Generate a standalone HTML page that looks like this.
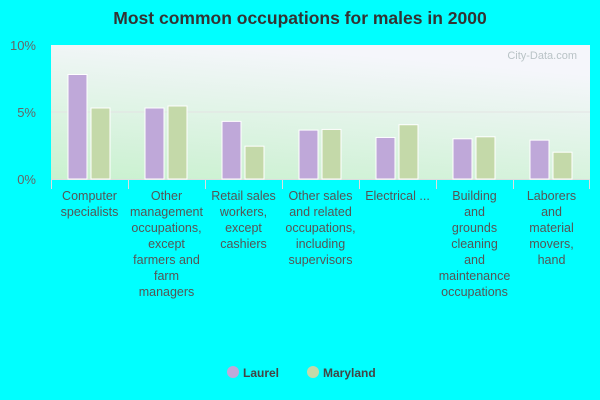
<!DOCTYPE html>
<html><head><meta charset="utf-8"><style>
body{margin:0;background:#00ffff;font-family:"Liberation Sans",sans-serif;}
#wrap{position:relative;width:600px;height:400px;overflow:hidden;}
</style></head><body>
<div id="wrap">
<svg id="svg" width="600" height="400" xmlns="http://www.w3.org/2000/svg">
<defs>
<linearGradient id="bg" x1="0" y1="1" x2="0.35" y2="0">
<stop offset="0" stop-color="#c9f1cf"/><stop offset="1" stop-color="#f5f6fb"/>
</linearGradient>
</defs>
<text x="300" y="24" text-anchor="middle" font-size="17.5" font-weight="bold" fill="#333">Most common occupations for males in 2000</text>
<rect x="51" y="45" width="539" height="134" fill="url(#bg)"/>
<text x="577" y="59" text-anchor="end" font-size="11" fill="#b9c3c6">City-Data.com</text>
<g id="grid"></g><g id="bars"></g><g id="labels"></g>
<g>
<circle cx="233" cy="372" r="6" fill="#bfa8d9"/>
<text x="243" y="377" font-size="12" font-weight="bold" fill="#444">Laurel</text>
<circle cx="313" cy="372" r="6" fill="#c4d9a9"/>
<text x="323" y="377" font-size="12" font-weight="bold" fill="#444">Maryland</text>
</g>
</svg>
</div>
<script>
const categories=[["Computer","specialists"],["Other","management","occupations,","except","farmers and","farm","managers"],["Retail sales","workers,","except","cashiers"],["Other sales","and related","occupations,","including","supervisors"],["Electrical ..."],["Building","and","grounds","cleaning","and","maintenance","occupations"],["Laborers","and","material","movers,","hand"]];
const laurel=[7.8,5.3,4.3,3.65,3.1,3.0,2.9];
const maryland=[5.3,5.45,2.45,3.7,4.05,3.15,2.0];
const yTicks=[0,5,10];
const NS="http://www.w3.org/2000/svg";
const x0=51,x1=590,yTop=45,yBot=179,yMax=10;
const cw=(x1-x0)/categories.length;
const y=v=>yBot-(v/yMax)*(yBot-yTop);
function mk(t,a,p){const e=document.createElementNS(NS,t);for(const k in a)e.setAttribute(k,a[k]);p.appendChild(e);return e;}
const grid=document.getElementById('grid'),bars=document.getElementById('bars'),labels=document.getElementById('labels');
yTicks.forEach(t=>{
 if(t>0&&t<yMax){const l=mk('line',{x1:x0,x2:x1,y1:y(t),y2:y(t),stroke:'#e3e3e3'},grid);
 
 }
 const tx=mk('text',{x:36,y:y(t)+5,'text-anchor':'end','font-size':13,fill:'#666'},grid);tx.textContent=t+'%';
 
 
});
mk('line',{x1:x0,x2:x1,y1:yBot+0.5,y2:yBot+0.5,stroke:'#ddd'},grid);
categories.forEach((c,i)=>{
 const cx=x0+i*cw;
 const tk=mk('line',{x1:cx+0.5,x2:cx+0.5,y1:yBot,y2:yBot+10,stroke:'#ddd'},grid);
 
 
 const a=mk('rect',{x:cx+17,y:y(laurel[i]),width:19,height:yBot-y(laurel[i]),fill:'#bfa8d9',stroke:'#fff','stroke-width':1},bars);
 
 
 const b=mk('rect',{x:cx+40,y:y(maryland[i]),width:19,height:yBot-y(maryland[i]),fill:'#c4d9a9',stroke:'#fff','stroke-width':1},bars);
 
 
 const t=mk('text',{'text-anchor':'middle','font-size':12.5,fill:'#555'},labels);
 
 
 c.forEach((ln,j)=>{const s=mk('tspan',{x:cx+cw/2,y:200+j*16},t);s.textContent=ln;});
});
mk('line',{x1:x1-0.5,x2:x1-0.5,y1:yBot,y2:yBot+10,stroke:'#ddd'},grid);
</script>
</body></html>
